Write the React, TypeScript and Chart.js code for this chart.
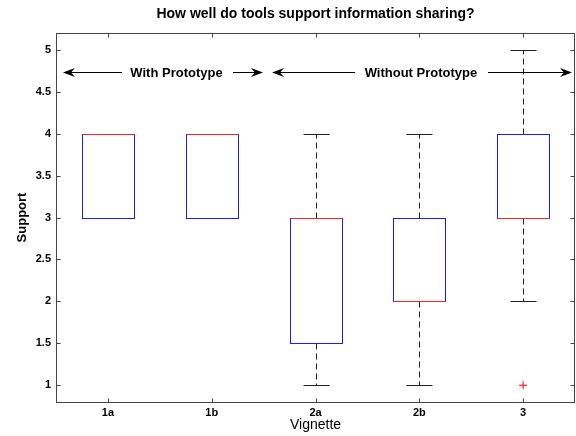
import React, { useEffect, useRef } from 'react';
import { Chart, registerables } from 'chart.js';

Chart.register(...registerables);

// ---- data ----
const categories = ['1a', '1b', '2a', '2b', '3'];
const whiskerLow = [3, 3, 1, 1, 2];
const q1 = [3, 3, 1.5, 2, 3];
const medians = [4, 4, 3, 2, 3];
const q3 = [4, 4, 3, 3, 4];
const whiskerHigh = [4, 4, 4, 4, 5];
const outlierCategories = ['3'];
const outlierValues = [1];
const yTickValues = [1, 1.5, 2, 2.5, 3, 3.5, 4, 4.5, 5];

const titleText = 'How well do tools support information sharing?';
const xTitle = 'Vignette';
const yTitle = 'Support';

// annotation arrows (data coordinates: tail -> tip)
const arrowTails = [1.136, 2.205, 3.381, 4.662];
const arrowTips = [0.567, 2.494, 2.581, 5.471];
const arrowLevel = 4.73;
const annotationTexts = ['With Prototype', 'Without Prototype'];
const annotationCenters = [1.661, 4.016];

const FONT = '"Liberation Sans", Arial, Helvetica, sans-serif';

const drawLine = (ctx: CanvasRenderingContext2D, x1: number, y1: number, x2: number, y2: number) => {
  ctx.beginPath();
  ctx.moveTo(x1, y1);
  ctx.lineTo(x2, y2);
  ctx.stroke();
};

const boxPlugin = {
  id: 'boxes',
  beforeDatasetsDraw(chart: any) {
    const { ctx, scales } = chart;
    const x = scales.x;
    const y = scales.y;
    const py = (v: number) => Math.round(y.getPixelForValue(v)) + 0.5;
    ctx.save();
    ctx.lineWidth = 1;
    categories.forEach((_, i) => {
      const pos = i + 1;
      const cx = Math.round(x.getPixelForValue(pos)) + 0.5;
      const half = Math.round(x.getPixelForValue(pos + 0.25) - x.getPixelForValue(pos));
      const capHalf = Math.round(x.getPixelForValue(pos + 0.125) - x.getPixelForValue(pos));
      // whiskers
      ctx.strokeStyle = '#222';
      ctx.setLineDash([6, 4]);
      if (whiskerHigh[i] > q3[i]) drawLine(ctx, cx, py(q3[i]), cx, py(whiskerHigh[i]));
      if (whiskerLow[i] < q1[i]) drawLine(ctx, cx, py(q1[i]), cx, py(whiskerLow[i]));
      ctx.setLineDash([]);
      // caps
      drawLine(ctx, cx - capHalf, py(whiskerHigh[i]), cx + capHalf, py(whiskerHigh[i]));
      drawLine(ctx, cx - capHalf, py(whiskerLow[i]), cx + capHalf, py(whiskerLow[i]));
      // box
      ctx.strokeStyle = '#1a1aff';
      ctx.strokeRect(cx - half, py(q3[i]), 2 * half, py(q1[i]) - py(q3[i]));
      // median
      ctx.strokeStyle = '#ff2020';
      drawLine(ctx, cx - half, py(medians[i]), cx + half, py(medians[i]));
    });
    ctx.restore();
  },
  afterDatasetsDraw(chart: any) {
    const { ctx, scales } = chart;
    const x = scales.x;
    const y = scales.y;
    const ay = Math.round(y.getPixelForValue(arrowLevel)) + 0.5;
    ctx.save();
    ctx.strokeStyle = '#000';
    ctx.fillStyle = '#000';
    ctx.lineWidth = 1;
    arrowTails.forEach((t, i) => {
      const tail = x.getPixelForValue(t);
      const tip = x.getPixelForValue(arrowTips[i]);
      const dir = tip > tail ? 1 : -1;
      drawLine(ctx, tail, ay, tip - dir * 6, ay);
      ctx.beginPath();
      ctx.moveTo(tip, ay);
      ctx.lineTo(tip - dir * 12, ay - 4.5);
      ctx.lineTo(tip - dir * 8, ay);
      ctx.lineTo(tip - dir * 12, ay + 4.5);
      ctx.closePath();
      ctx.fill();
    });
    ctx.font = `bold 13px ${FONT}`;
    ctx.textAlign = 'center';
    ctx.textBaseline = 'middle';
    annotationTexts.forEach((t, i) => {
      ctx.fillText(t, x.getPixelForValue(annotationCenters[i]), ay + 1);
    });
    ctx.restore();
  },
  afterDraw(chart: any) {
    const { ctx, chartArea, scales } = chart;
    const x = scales.x;
    const y = scales.y;
    const L = Math.round(chartArea.left) + 0.5;
    const R = Math.round(chartArea.right) - 0.5;
    const T = Math.round(chartArea.top) + 0.5;
    const B = Math.round(chartArea.bottom) + 0.5;
    ctx.save();
    ctx.strokeStyle = '#444';
    ctx.lineWidth = 1;
    ctx.strokeRect(L, T, R - L, B - T);
    const tl = 4;
    yTickValues.forEach((v) => {
      const p = Math.round(y.getPixelForValue(v)) + 0.5;
      drawLine(ctx, L, p, L + tl, p);
      drawLine(ctx, R, p, R - tl, p);
    });
    categories.forEach((_, i) => {
      const p = Math.round(x.getPixelForValue(i + 1)) + 0.5;
      drawLine(ctx, p, B, p, B - tl);
      drawLine(ctx, p, T, p, T + tl);
    });
    // title
    ctx.fillStyle = '#000';
    ctx.font = `bold 14px ${FONT}`;
    ctx.textAlign = 'center';
    ctx.textBaseline = 'middle';
    ctx.fillText(titleText, (chartArea.left + chartArea.right) / 2, 14);
    ctx.restore();
  },
};

export default function App() {
  const canvasRef = useRef<HTMLCanvasElement | null>(null);

  useEffect(() => {
    if (!canvasRef.current) return;
    const chart = new Chart(canvasRef.current, {
      type: 'scatter',
      data: {
        datasets: [
          {
            label: 'Outliers',
            data: outlierCategories.map((c, i) => ({ x: categories.indexOf(c) + 1, y: outlierValues[i] })),
            pointStyle: 'cross',
            radius: 4,
            borderColor: '#ff0000',
            backgroundColor: '#ff0000',
            borderWidth: 1,
          },
        ],
      },
      options: {
        animation: false,
        responsive: false,
        maintainAspectRatio: false,
        layout: { autoPadding: false, padding: { top: 33, right: 1, bottom: 0, left: 0 } },
        plugins: {
          legend: { display: false },
          tooltip: { enabled: false },
          title: { display: false },
        },
        scales: {
          x: {
            type: 'linear',
            min: 0.5,
            max: 5.5,
            afterBuildTicks: (scale: any) => {
              scale.ticks = categories.map((_, i) => ({ value: i + 1 }));
            },
            afterFit: (scale: any) => {
              scale.height = 34;
            },
            ticks: {
              autoSkip: false,
              maxRotation: 0,
              padding: 4,
              color: '#000',
              font: { family: FONT, size: 11, weight: 'bold' },
              callback: (_v: any, index: number) => categories[index],
            },
            grid: { display: false, drawTicks: false },
            border: { display: false },
            title: {
              display: true,
              text: xTitle,
              color: '#000',
              font: { family: FONT, size: 14 },
              padding: { top: 0, bottom: 2 },
            },
          },
          y: {
            type: 'linear',
            min: 0.8,
            max: 5.2,
            afterBuildTicks: (scale: any) => {
              scale.ticks = yTickValues.map((v) => ({ value: v }));
            },
            afterFit: (scale: any) => {
              scale.width = 56;
            },
            ticks: {
              autoSkip: false,
              padding: 5,
              color: '#000',
              font: { family: FONT, size: 11, weight: 'bold' },
              callback: (v: any) => String(v),
            },
            grid: { display: false, drawTicks: false },
            border: { display: false },
            title: {
              display: true,
              text: yTitle,
              color: '#000',
              font: { family: FONT, size: 13, weight: 'bold' },
              padding: { top: 15, bottom: 0 },
            },
          },
        },
      },
      plugins: [boxPlugin],
    } as any);
    return () => chart.destroy();
  }, []);

  return (
    <div style={{ position: 'fixed', left: 0, top: 0, width: 576, height: 436, background: '#fff' }}>
      <canvas ref={canvasRef} width={576} height={436} style={{ display: 'block' }} />
    </div>
  );
}
